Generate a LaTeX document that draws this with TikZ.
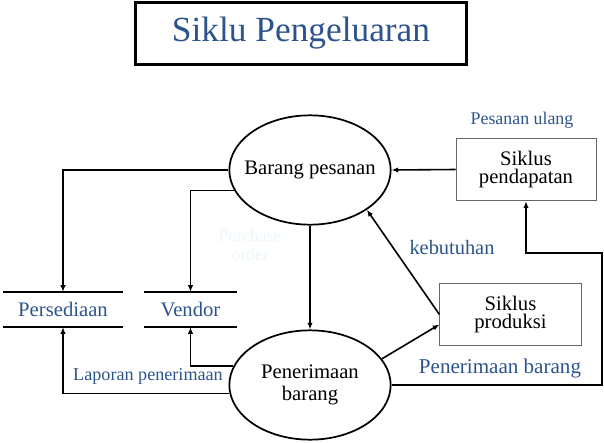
\documentclass[tikz,border=0pt]{standalone}
\usepackage{fontspec}
\setmainfont{Liberation Serif}
\usetikzlibrary{arrows.meta,shapes.geometric}
\definecolor{lblblue}{RGB}{44,84,140}
\definecolor{faint}{RGB}{236,247,249}

\begin{document}
\begin{tikzpicture}[x=0.75pt,y=-0.75pt,
  proc/.style={draw,ellipse,line width=1.3pt,minimum width=121pt,minimum height=82pt,inner ysep=0pt,inner xsep=-7pt,align=center,font=\fontsize{15.5}{17}\selectfont},
  siklus/.style={draw=gray!80!black,line width=0.6pt,minimum width=105pt,minimum height=47pt,align=center,font=\fontsize{15.5}{14}\selectfont},
  store/.style={minimum height=26pt,inner sep=0pt,text=lblblue,font=\fontsize{15.5}{17}\selectfont},
  storeline/.style={line width=1.4pt},
  lbl/.style={text=lblblue,inner sep=1pt},
  arr/.style={line width=1.2pt,-{Latex[length=5pt,width=4pt]}}]
\useasboundingbox (0,0) rectangle (604,443);
% title
\node[draw,line width=2.2pt,minimum width=248pt,minimum height=46.5pt,text=lblblue,font=\fontsize{26.5}{30}\selectfont] (title) at (301,33.5) {Siklu Pengeluaran};
% processes
\node[proc] (pesanan) at (310,170) {Barang pesanan};
\node[proc] (terima) at (310,385) {Penerimaan\\barang};
\node[siklus] (pendapatan) at (526,169.5) {Siklus\\pendapatan};
\node[siklus,minimum width=106pt] (produksi) at (510.5,314.5) {Siklus\\produksi};
% data stores
\node[store,minimum width=90pt] (pers) at (63,309.5) {Persediaan};
\node[store,minimum width=70pt] (vendor) at (190.5,309.5) {Vendor};
\draw[storeline] (pers.north west) -- (pers.north east);
\draw[storeline] (pers.south west) -- (pers.south east);
\draw[storeline] (vendor.north west) -- (vendor.north east);
\draw[storeline] (vendor.south west) -- (vendor.south east);
% flows
\draw[arr] (pesanan.west) -| (pers.north);
\draw[arr] (pesanan.195) -| (vendor.north);
\draw[arr] (pesanan.south) -- (terima.north);
\draw[arr] (terima.166) -| (vendor.south);
\draw[arr] (terima.186) -| (pers.south);
\draw[arr] (pendapatan.west) -- (pesanan.east);
\draw[arr] (produksi.west) -- (pesanan.325);
\draw[arr] (terima.20) -- (produksi.188);
\coordinate (turn) at (602,253);
\draw[arr] (terima.east) -| (turn) -| (pendapatan.south);
% labels
\node[lbl,font=\fontsize{13.4}{15}\selectfont] (ulang) at (522,120) {Pesanan ulang};
\node[lbl,font=\fontsize{15.3}{17}\selectfont] (butuh) at (452,248) {kebutuhan};
\node[lbl,font=\fontsize{15.8}{17}\selectfont] (terimalbl) at (500,368) {Penerimaan barang};
\node[lbl,font=\fontsize{13.6}{15}\selectfont] (laporan) at (148,376) {Laporan penerimaan};
\node[text=faint,align=center,font=\fontsize{13}{14}\selectfont] (po) at (250,245) {Purchase\\order};
\end{tikzpicture}
\end{document}
